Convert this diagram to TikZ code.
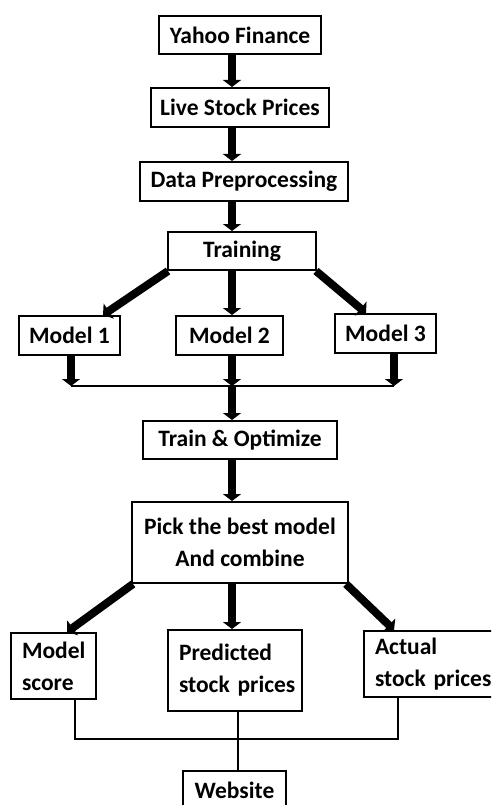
\documentclass[tikz,border=0pt]{standalone}
\usepackage{fontspec}
\setmainfont{Carlito}
\usetikzlibrary{arrows.meta}
\begin{document}
\begin{tikzpicture}[x=1pt,y=-1pt,
 box/.style={draw, line width=2pt, inner sep=0pt, font=\bfseries\fontsize{23.5}{32}\selectfont, align=center},
 lbox/.style={box, align=left, inner xsep=11pt},
 arr/.style={line width=8pt, -{Triangle[width=18pt,length=7pt]}},
 thinline/.style={line width=2pt}]
\useasboundingbox (0,0) rectangle (491,805);
\clip (0,0) rectangle (491,805);
% boxes
\node[box, minimum width=162pt, minimum height=38pt] (yahoo) at (240,35) {Yahoo Finance};
\node[box, minimum width=178pt, minimum height=39pt] (live) at (240,107.5) {Live Stock Prices};
\node[box, minimum width=208pt, minimum height=39pt] (prep) at (244,181.5) {Data Preprocessing};
\node[box, minimum width=148pt, minimum height=38pt] (train) at (242,251) {Training};
\node[box, minimum width=101pt, minimum height=39pt] (m1) at (69.5,335.5) {Model 1};
\node[box, minimum width=107pt, minimum height=39pt] (m2) at (229.5,335.5) {Model 2};
\node[box, minimum width=101pt, minimum height=39pt] (m3) at (385.5,333.5) {Model 3};
\node[box, minimum width=194pt, minimum height=38pt] (opt) at (240,440) {Train \& Optimize};
\node[box, minimum width=216pt, minimum height=81pt] (pick) at (240,542.5) {Pick the best model\\And combine};
\node[lbox, text width=63pt, minimum height=66pt] (score) at (53.5,666) {\mbox{Model}\\\mbox{score}};
\node[lbox, text width=112pt, minimum height=81pt] (pred) at (235,670.5) {\mbox{Predicted}\\\mbox{stock prices}};
\node[lbox, text width=120pt, minimum height=66pt] (actual) at (435,664) {\mbox{Actual}\\\mbox{stock prices}};
\node[box, minimum width=103pt, minimum height=38pt] (web) at (234.5,790) {Website};
% helper coordinates
\coordinate (cx) at (232,0);
\coordinate (jn) at (232,386);
\coordinate (j1) at (71,386);
\coordinate (j3) at (394,386);
\coordinate (b1) at (75,739);
\coordinate (b3) at (398,739);
\coordinate (pw) at (238,0);
% thick arrows
\draw[arr] (yahoo.south -| cx) -- (live.north -| cx);
\draw[arr] (live.south -| cx) -- (prep.north -| cx);
\draw[arr] (prep.south -| cx) -- (train.north -| cx);
\draw[arr] ([xshift=1pt]train.south west) -- ([xshift=-18pt]m1.north east);
\draw[arr] (train.south -| cx) -- (m2.north -| cx);
\draw[arr] ([xshift=-1pt]train.south east) -- ([xshift=32pt]m3.north west);
\draw[arr] (m1.south -| j1) -- (j1);
\draw[arr] (m2.south -| cx) -- (jn);
\draw[arr] (m3.south -| j3) -- (j3);
\draw[thinline] (j1) -- (j3);
\draw[arr] (jn) -- (opt.north -| cx);
\draw[arr] (opt.south -| cx) -- (pick.north -| cx);
\draw[arr] ([xshift=2pt]pick.south west) -- ([xshift=57pt]score.north west);
\draw[arr] (pick.south -| cx) -- (pred.north -| cx);
\draw[arr] ([xshift=-3pt]pick.south east) -- ([xshift=31pt]actual.north west);
% thin connectors
\draw[thinline] (score.south -| b1) -- (b1) -- (b3) -- (actual.south -| b3);
\draw[thinline] (pred.south -| pw) -- (web.north -| pw);
\end{tikzpicture}
\end{document}
